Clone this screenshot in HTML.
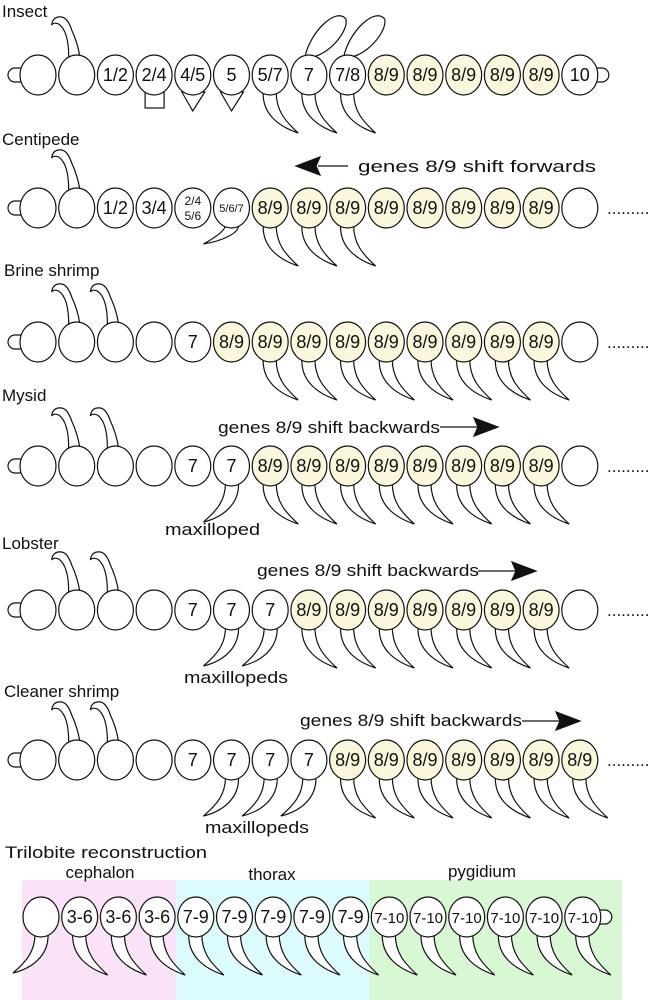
<!DOCTYPE html>
<html><head><meta charset="utf-8"><style>
html,body{margin:0;padding:0;background:#fff;}
svg{display:block;}
text{font-family:"Liberation Sans","DejaVu Sans",sans-serif;fill:#111;}
.c{text-anchor:middle;}
.t{font-size:17px;}
</style></head><body>
<svg id="s" width="654" height="1000" viewBox="0 0 654 1000" xmlns="http://www.w3.org/2000/svg">
<rect x="22" y="880" width="154" height="120" fill="#fae3f8"/>
<rect x="176" y="880" width="194" height="120" fill="#dcfbfc"/>
<rect x="370" y="880" width="252" height="120" fill="#d8f8d4"/>
<g id="shapes" stroke="#111" stroke-width="1.2" fill="#fff"></g>
<g id="labels">
<text class="t" x="2" y="17">Insect</text>
<text class="t" x="2" y="145">Centipede</text>
<text class="t" x="4" y="276">Brine shrimp</text>
<text class="t" x="2" y="401">Mysid</text>
<text class="t" x="2" y="549">Lobster</text>
<text class="t" x="4" y="697">Cleaner shrimp</text>
<text class="t" x="5" y="858" textLength="202" lengthAdjust="spacingAndGlyphs">Trilobite reconstruction</text>
<text class="t" x="100" y="878" text-anchor="middle">cephalon</text>
<text class="t" x="272" y="880" text-anchor="middle">thorax</text>
<text class="t" x="482" y="877" text-anchor="middle">pygidium</text>
<text class="t" x="358" y="172" textLength="238" lengthAdjust="spacingAndGlyphs">genes 8/9 shift forwards</text>
<text class="t" x="218" y="433" textLength="222" lengthAdjust="spacingAndGlyphs">genes 8/9 shift backwards</text>
<text class="t" x="257" y="576" textLength="222" lengthAdjust="spacingAndGlyphs">genes 8/9 shift backwards</text>
<text class="t" x="300" y="726" textLength="222" lengthAdjust="spacingAndGlyphs">genes 8/9 shift backwards</text>
<text class="t" x="165" y="535" textLength="95" lengthAdjust="spacingAndGlyphs">maxilloped</text>
<text class="t" x="184" y="683" textLength="104" lengthAdjust="spacingAndGlyphs">maxillopeds</text>
<text class="t" x="205" y="833" textLength="104" lengthAdjust="spacingAndGlyphs">maxillopeds</text>
<text class="t" x="607" y="214">.........</text>
<text class="t" x="607" y="348">.........</text>
<text class="t" x="607" y="472">.........</text>
<text class="t" x="607" y="616">.........</text>
<text class="t" x="607" y="766">.........</text>
</g>
<g id="cl"></g>
</svg>
<script>
var NS="http://www.w3.org/2000/svg";
var G=document.getElementById('shapes');
function el(n,a,p){var e=document.createElementNS(NS,n);for(var k in a)e.setAttribute(k,a[k]);(p||G).appendChild(e);return e;}
function X(i,o){return (o||38)+38.7*i;}
function legR(cx,cy){el('path',{d:'M'+(cx-7)+','+(cy+17)+' C'+(cx-8)+','+(cy+40)+' '+(cx+10)+','+(cy+52)+' '+(cx+28)+','+(cy+58)+' C'+(cx+15)+','+(cy+46)+' '+(cx+6)+','+(cy+36)+' '+(cx+6)+','+(cy+17)+'Z'});}
function legL(cx,cy,dy){dy=dy||56;el('path',{d:'M'+(cx+7)+','+(cy+17)+' C'+(cx+8)+','+(cy+dy*0.7)+' '+(cx-10)+','+(cy+dy*0.92)+' '+(cx-28)+','+(cy+dy)+' C'+(cx-15)+','+(cy+dy*0.8)+' '+(cx-6)+','+(cy+dy*0.62)+' '+(cx-6)+','+(cy+17)+'Z'});}
function ant(cx,cy){el('path',{d:'M'+(cx-8)+','+(cy-18)+' Q'+(cx-8)+','+(cy-44)+' '+(cx-18)+','+(cy-51)+' Q'+(cx-23)+','+(cy-53)+' '+(cx-25)+','+(cy-50)+' Q'+(cx-24)+','+(cy-59)+' '+(cx-15)+','+(cy-58)+' Q'+(cx-9)+','+(cy-57)+' '+(cx-5)+','+(cy-45)+' Q'+(cx+1)+','+(cy-32)+' '+(cx+3)+','+(cy-19)+'Z'});}
function head(cy){el('path',{d:'M21,'+(cy-7)+' L15,'+(cy-7)+' A7,7 0 0 0 15,'+(cy+7)+' L21,'+(cy+7)});}
function tail(cx,cy){el('path',{d:'M'+(cx+15)+','+(cy-7)+' L'+(cx+22)+','+(cy-7)+' A7,7 0 0 1 '+(cx+22)+','+(cy+7)+' L'+(cx+15)+','+(cy+7)});}
var Y='#faf7dc';
function row(cy,labels,hl,o){var L=document.getElementById('cl');
 for(var i=0;i<labels.length;i++){var cx=X(i,o);el('ellipse',{cx:cx,cy:cy,rx:18,ry:20,fill:(hl.indexOf(i)>=0?Y:'#fff')});
  var s=labels[i];if(!s)continue;
  if(s.indexOf('|')>=0){var p=s.split('|');el('text',{x:cx,y:cy-3,'class':'c',style:'font-size:12px'},L).textContent=p[0];el('text',{x:cx,y:cy+12,'class':'c',style:'font-size:12px'},L).textContent=p[1];}
  else{var fs=(s.length>4?11:(s.length>3?15:18));var t=el('text',{x:cx,y:cy+(fs>12?6:4),'class':'c',style:'font-size:'+fs+'px'},L);t.textContent=s;}
 }}
function rng(a,b){var r=[];for(var i=a;i<=b;i++)r.push(i);return r;}
var cy=75;head(cy);tail(X(14),cy);ant(X(1),cy);
[6,7,8].forEach(function(i){legR(X(i),cy);});
[7,8].forEach(function(i){var cx=X(i);el('path',{d:'M'+(cx-4)+','+(cy-18)+' C'+(cx+2)+','+(cy-45)+' '+(cx+28)+','+(cy-68)+' '+(cx+37)+','+(cy-56)+' C'+(cx+40)+','+(cy-45)+' '+(cx+22)+','+(cy-22)+' '+(cx+4)+','+(cy-18)+'Z'});});
el('rect',{x:X(3)-9,y:cy+17,width:19,height:16});
el('path',{d:'M'+(X(4)-11)+','+(cy+17)+' L'+(X(4))+','+(cy+36)+' L'+(X(4)+12)+','+(cy+17)+'Z'});
el('path',{d:'M'+(X(5)-11)+','+(cy+17)+' L'+(X(5))+','+(cy+36)+' L'+(X(5)+12)+','+(cy+17)+'Z'});
row(cy,['','','1/2','2/4','4/5','5','5/7','7','7/8','8/9','8/9','8/9','8/9','8/9','10'],rng(9,13));
cy=208;head(cy);ant(X(1),cy);legL(X(5),cy,36);[6,7,8].forEach(function(i){legR(X(i),cy);});
row(cy,['','','1/2','3/4','2/4|5/6','5/6/7','8/9','8/9','8/9','8/9','8/9','8/9','8/9','8/9',''],rng(6,13));
el('path',{d:'M348,166 L318,166'});el('path',{d:'M296,166 L320,157 L316,166 L320,175Z',fill:'#111'});
cy=342;head(cy);ant(X(1),cy);ant(X(2),cy);rng(6,13).forEach(function(i){legR(X(i),cy);});
row(cy,['','','','','7','8/9','8/9','8/9','8/9','8/9','8/9','8/9','8/9','8/9',''],rng(5,13));
cy=466;head(cy);ant(X(1),cy);ant(X(2),cy);legL(X(5),cy);rng(6,13).forEach(function(i){legR(X(i),cy);});
row(cy,['','','','','7','7','8/9','8/9','8/9','8/9','8/9','8/9','8/9','8/9',''],rng(6,13));
function arrR(x1,x2,y){el('path',{d:'M'+x1+','+y+' L'+(x2-20)+','+y});el('path',{d:'M'+x2+','+y+' L'+(x2-24)+','+(y-9)+' L'+(x2-20)+','+y+' L'+(x2-24)+','+(y+9)+'Z',fill:'#111'});}
arrR(440,498,427);
cy=610;head(cy);ant(X(1),cy);ant(X(2),cy);legL(X(5),cy);legL(X(6),cy);rng(7,13).forEach(function(i){legR(X(i),cy);});
row(cy,['','','','','7','7','7','8/9','8/9','8/9','8/9','8/9','8/9','8/9',''],rng(7,13));
arrR(478,536,571);
cy=760;head(cy);ant(X(1),cy);ant(X(2),cy);[5,6,7].forEach(function(i){legL(X(i),cy);});rng(8,14).forEach(function(i){legR(X(i),cy);});
row(cy,['','','','','7','7','7','7','8/9','8/9','8/9','8/9','8/9','8/9','8/9'],rng(8,14));
arrR(522,580,721);
cy=917;var o=41;tail(X(14,o),cy);legL(X(0,o),cy);rng(1,14).forEach(function(i){legR(X(i,o),cy);});
row(cy,['','3-6','3-6','3-6','7-9','7-9','7-9','7-9','7-9','7-10','7-10','7-10','7-10','7-10','7-10'],[],o);
</script>
</body></html>
